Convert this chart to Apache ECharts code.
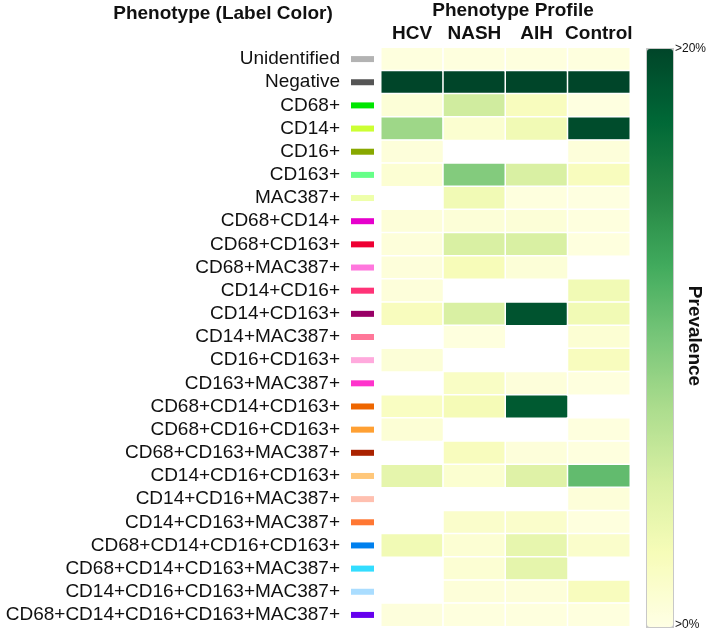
<!DOCTYPE html>
<html>
<head>
<meta charset="utf-8">
<script src="https://cdn.jsdelivr.net/npm/echarts@6/dist/echarts.min.js"></script>
<style>
html,body{margin:0;padding:0;background:#fff;}
#chart{width:709px;height:633px;}
</style>
</head>
<body>
<div id="chart"></div>
<script>
const phenotypes = [
  'Unidentified','Negative','CD68+','CD14+','CD16+','CD163+','MAC387+',
  'CD68+CD14+','CD68+CD163+','CD68+MAC387+','CD14+CD16+','CD14+CD163+',
  'CD14+MAC387+','CD16+CD163+','CD163+MAC387+','CD68+CD14+CD163+',
  'CD68+CD16+CD163+','CD68+CD163+MAC387+','CD14+CD16+CD163+',
  'CD14+CD16+MAC387+','CD14+CD163+MAC387+','CD68+CD14+CD16+CD163+',
  'CD68+CD14+CD163+MAC387+','CD14+CD16+CD163+MAC387+',
  'CD68+CD14+CD16+CD163+MAC387+'
];
const labelColors = [
  '#b3b3b3','#555555','#00e600','#ccff33','#88a800','#66ff88','#eeffaa',
  '#e600cc','#ee0033','#ff77dd','#ff3377','#990066','#ff7799','#ffaadd',
  '#ff33cc','#ee6600','#ffa033','#aa2200','#ffc77a','#ffc0b0','#ff7733',
  '#0080ee','#33ddff','#aaddff','#6600ee'
];
const profiles = ['HCV','NASH','AIH','Control'];
// prevalence (%), capped at 20; null = not observed (white)
const hcv     = [0.4,20,0.8,8.2,0.6,1.0,null,0.7,0.6,0.6,0.6,2.2,null,0.8,null,2.0,0.9,null,4.0,null,null,3.0,null,null,0.5];
const nash    = [0.4,20,5.5,1.2,null,9.5,3.0,0.8,5.0,2.5,null,5.0,0.4,null,1.8,2.7,null,2.2,1.2,null,1.5,1.0,1.0,0.7,0.4];
const aih     = [0.4,20,2.2,3.0,null,5.0,0.4,0.8,5.0,0.8,null,19,null,null,0.6,18.5,null,0.6,4.5,null,1.5,3.8,4.0,0.7,0.4];
const control = [0.4,20,0.3,19.5,0.6,2.2,0.3,0.4,0.4,null,3.0,3.0,1.0,2.2,0.4,null,0.4,0.4,11,0.7,0.4,1.5,null,2.2,0.4];
const colorbarText = ['>20%','>0%'];
const ylgn = ['#ffffe5','#f7fcb9','#d9f0a3','#addd8e','#78c679','#41ab5d','#238443','#006837','#004529'];

const FONT = '"Liberation Sans", Arial, Helvetica, sans-serif';
const columns = [hcv, nash, aih, control];
const heatData = [];
columns.forEach((col, x) => {
  col.forEach((v, y) => {
    heatData.push([x, y, v === null ? '-' : v]);
  });
});

const chart = echarts.init(document.getElementById('chart'));
chart.setOption({
  animation: false,
  backgroundColor: '#fff',
  title: [
    {text: 'Phenotype (Label Color)', left: 223, top: 4, textAlign: 'center', padding: 0,
     textStyle: {fontSize: 19, fontWeight: 'bold', fontFamily: FONT, color: '#111'}},
    {text: 'Phenotype Profile', left: 513, top: 1, textAlign: 'center', padding: 0,
     textStyle: {fontSize: 19, fontWeight: 'bold', fontFamily: FONT, color: '#111'}}
  ],
  grid: [
    {left: 381, top: 47.5, width: 249, height: 579},
    {left: 351, top: 47.5, width: 23, height: 579}
  ],
  xAxis: [
    {type: 'category', data: profiles, position: 'top', gridIndex: 0,
     axisLine: {show: false}, axisTick: {show: false}, splitLine: {show: false},
     axisLabel: {interval: 0, fontSize: 19, fontWeight: 'bold', color: '#111', fontFamily: FONT, margin: 4}},
    {type: 'category', data: ['swatch'], gridIndex: 1, show: false}
  ],
  yAxis: [
    {type: 'category', data: phenotypes, inverse: true, gridIndex: 0, show: false},
    {type: 'category', data: phenotypes, inverse: true, gridIndex: 1,
     axisLine: {show: false}, axisTick: {show: false}, splitLine: {show: false},
     axisLabel: {interval: 0, fontSize: 19, color: '#111', fontFamily: FONT, margin: 11}}
  ],
  visualMap: {
    type: 'continuous', min: 0, max: 20, seriesIndex: 0, orient: 'vertical',
    left: 646, top: 48, itemWidth: 26, itemHeight: 578, calculable: false,
    inRange: {color: ylgn}, borderColor: '#c8c8c8', borderWidth: 2, padding: 0,
    hoverLink: false
  },
  graphic: [
    {type: 'text', left: 675, top: 43, style: {text: colorbarText[0], fontSize: 12, fontFamily: FONT, fill: '#111'}},
    {type: 'text', left: 675, top: 619, style: {text: colorbarText[1], fontSize: 12, fontFamily: FONT, fill: '#111'}},
    {type: 'text', x: 694, y: 336, rotation: -Math.PI / 2,
     style: {text: 'Prevalence', fontSize: 19, fontWeight: 'bold', fontFamily: FONT, fill: '#111',
             textAlign: 'center', textVerticalAlign: 'middle'}}
  ],
  series: [
    {type: 'heatmap', xAxisIndex: 0, yAxisIndex: 0, data: heatData,
     itemStyle: {borderColor: '#fff', borderWidth: 1.5},
     emphasis: {disabled: true}},
    {type: 'scatter', xAxisIndex: 1, yAxisIndex: 1, symbol: 'rect', symbolSize: [23, 6],
     itemStyle: {opacity: 1},
     data: phenotypes.map((p, i) => ({value: [0, i], itemStyle: {color: labelColors[i], opacity: 1}})),
     emphasis: {disabled: true}}
  ]
});
</script>
</body>
</html>
